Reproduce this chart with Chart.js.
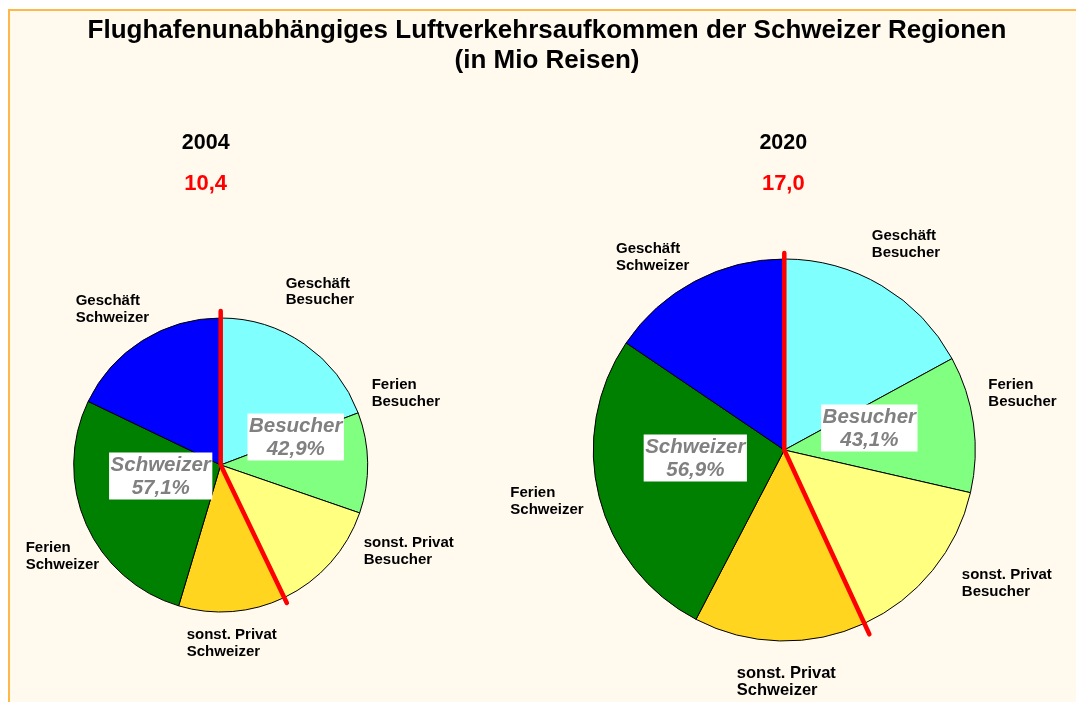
<!DOCTYPE html>
<html>
<head>
<meta charset="utf-8">
<script src="https://cdn.jsdelivr.net/npm/chart.js@4.4.1/dist/chart.umd.min.js"></script>
<style>
  html, body { margin: 0; padding: 0; background: #ffffff; }
  #wrap { position: relative; width: 1076px; height: 702px; overflow: hidden; }
  #frame { position: absolute; left: 8px; top: 9px; width: 1080px; height: 700px;
           background: #FFF9EE; border-top: 2px solid #FDB849; border-left: 2px solid #FDB849; }
  canvas { position: absolute; left: 0; top: 0; }
</style>
</head>
<body>
<div id="wrap">
  <div id="frame"></div>
  <canvas id="c2004" width="1076" height="702"></canvas>
  <canvas id="c2020" width="1076" height="702"></canvas>
</div>
<script>
// ---------------- data ----------------
const titleLines = ['Flughafenunabhängiges Luftverkehrsaufkommen der Schweizer Regionen', '(in Mio Reisen)'];
const categories = ['Geschäft Besucher', 'Ferien Besucher', 'sonst. Privat Besucher',
                    'sonst. Privat Schweizer', 'Ferien Schweizer', 'Geschäft Schweizer'];
const categoryLines = [['Geschäft', 'Besucher'], ['Ferien', 'Besucher'], ['sonst. Privat', 'Besucher'],
                       ['sonst. Privat', 'Schweizer'], ['Ferien', 'Schweizer'], ['Geschäft', 'Schweizer']];
const groupNames = ['Besucher', 'Schweizer'];
const groupSizes = [3, 3];            // first three slices are Besucher, last three Schweizer
const years = ['2004', '2020'];
const values2004 = [2.00, 1.15, 1.31, 1.22, 2.86, 1.86];   // Mio Reisen
const values2020 = [2.90, 1.96, 2.47, 2.47, 4.56, 2.64];   // Mio Reisen

// ---------------- styles ----------------
const sliceColors = ['#80FFFF', '#80FF80', '#FFFF80', '#FFD520', '#008000', '#0000FF'];
const FONT = "'Liberation Sans', Arial, Helvetica, sans-serif";

function fmt(v, d) { return v.toFixed(d).replace('.', ','); }

const annotPlugin = {
  id: 'annot',
  afterDatasetsDraw(chart, args, o) {
    const ctx = chart.ctx;
    const meta = chart.getDatasetMeta(0);
    const arcs = meta.data;
    const cx = arcs[0].x, cy = arcs[0].y, r = arcs[0].outerRadius;
    const data = chart.data.datasets[0].data;
    const total = data.reduce((a, b) => a + b, 0);
    const besucher = data.slice(0, groupSizes[0]).reduce((a, b) => a + b, 0);
    const shares = [besucher / total * 100, 100 - besucher / total * 100];
    const startA = arcs[0].startAngle;
    const splitA = arcs[groupSizes[0] - 1].endAngle;

    ctx.save();
    // main title (only once)
    if (o.drawTitle) {
      ctx.fillStyle = '#000';
      ctx.textAlign = 'center';
      ctx.textBaseline = 'middle';
      ctx.font = 'bold 26px ' + FONT;
      ctx.fillText(titleLines[0], 547, 31);
      ctx.fillText(titleLines[1], 547, 61);
    }
    // year + total
    ctx.textAlign = 'center';
    ctx.textBaseline = 'middle';
    ctx.font = 'bold 21.5px ' + FONT;
    ctx.fillStyle = '#000';
    ctx.fillText(o.year, cx + o.yearDx, cy + o.yearDy);
    ctx.font = 'bold 22px ' + FONT;
    ctx.fillStyle = '#FF0000';
    ctx.fillText(fmt(total, 1), cx + o.yearDx, cy + o.totalDy);

    // red separator line
    ctx.strokeStyle = '#FF0000';
    ctx.lineWidth = 4.5;
    ctx.lineCap = 'round';
    ctx.lineJoin = 'round';
    ctx.beginPath();
    ctx.moveTo(cx + Math.cos(startA) * (r + o.extTop), cy + Math.sin(startA) * (r + o.extTop));
    ctx.lineTo(cx, cy);
    ctx.lineTo(cx + Math.cos(splitA) * (r + o.extBottom), cy + Math.sin(splitA) * (r + o.extBottom));
    ctx.stroke();

    // group boxes
    ctx.font = 'italic bold 20.5px ' + FONT;
    for (let g = 0; g < 2; g++) {
      const lines = [groupNames[g], fmt(shares[g], 1) + '%'];
      const w = Math.max(...lines.map(t => ctx.measureText(t).width)) + 3;
      const h = 47;
      const bx = cx + o.groupPos[g][0], by = cy + o.groupPos[g][1];
      ctx.fillStyle = '#FFFFFF';
      ctx.fillRect(bx - w / 2, by - h / 2, w, h);
      ctx.fillStyle = '#808080';
      ctx.fillText(lines[0], bx, by - 11);
      ctx.fillText(lines[1], bx, by + 12);
    }

    // outside category labels
    ctx.fillStyle = '#000';
    ctx.textAlign = 'left';
    for (let i = 0; i < categoryLines.length; i++) {
      const p = o.labelPos[i];
      ctx.font = 'bold ' + (p[2] || 15) + 'px ' + FONT;
      ctx.fillText(categoryLines[i][0], cx + p[0], cy + p[1]);
      ctx.fillText(categoryLines[i][1], cx + p[0], cy + p[1] + 16.5);
    }
    ctx.restore();
  }
};

function makePie(id, values, center, radius, annot) {
  const W = 1076, H = 702, half = radius + 3;
  return new Chart(document.getElementById(id), {
    type: 'pie',
    data: {
      labels: categories,
      datasets: [{
        data: values,
        backgroundColor: sliceColors,
        borderColor: '#000000',
        borderWidth: 1,
        radius: radius
      }]
    },
    options: {
      responsive: false,
      animation: false,
      devicePixelRatio: 1,
      layout: { padding: { left: center[0] - half, right: W - center[0] - half,
                           top: center[1] - half, bottom: H - center[1] - half } },
      plugins: { legend: { display: false }, tooltip: { enabled: false }, annot: annot }
    },
    plugins: [annotPlugin]
  });
}

// label offsets are relative to the pie centre: [dx, dy of first line, fontSize]
makePie('c2004', values2004, [220.7, 465], 147, {
  drawTitle: true, year: years[0], yearDx: -15, yearDy: -322, totalDy: -281,
  extTop: 7, extBottom: 6,
  groupPos: [[75, -28], [-60, 11]],
  labelPos: [[65, -181.5], [151, -80], [143, 78], [-34, 170], [-195, 83], [-145, -164]]
});
makePie('c2020', values2020, [784.3, 450], 191, {
  drawTitle: false, year: years[1], yearDx: -1, yearDy: -307, totalDy: -266,
  extTop: 6, extBottom: 12,
  groupPos: [[85, -22], [-89, 8]],
  labelPos: [[87.5, -214], [204, -65], [177.5, 125], [-47.5, 223.5, 16.5], [-274, 43], [-168.3, -200.7]]
});
</script>
</body>
</html>
